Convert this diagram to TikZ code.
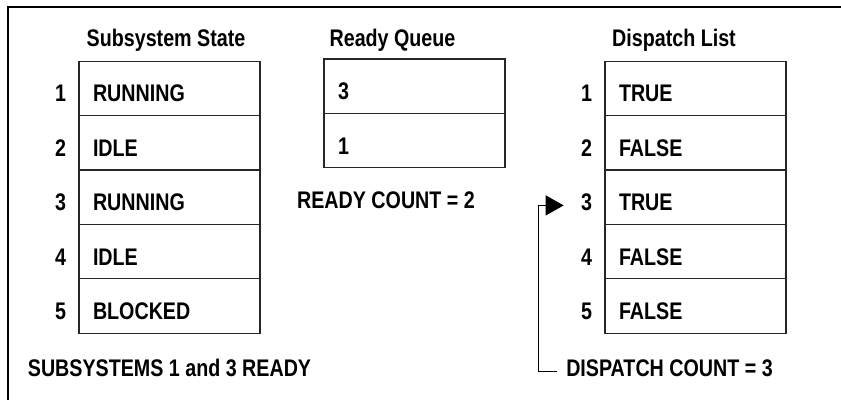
\documentclass[tikz,border=0pt]{standalone}
\usepackage{fontspec}
\setmainfont{Liberation Sans}[FakeStretch=0.82]
\usetikzlibrary{positioning}
\usetikzlibrary{arrows.meta}
\tikzstyle{txt} = [font=\fontsize{12}{14}\selectfont\bfseries, inner sep=0pt]
\tikzstyle{cell} = [txt, draw=black!85, line width=0.6pt, minimum height=27.2pt, text width=76.5pt, inner xsep=7pt, inner ysep=0pt, align=left, text height=13.5pt, text depth=0pt]
\tikzstyle{num} = [txt, text height=13.5pt, text depth=0pt]
\tikzstyle{link} = [line width=0.6pt, -{Triangle[length=9pt,width=10pt]}]
\def\rowh{54.4}

\begin{document}
\begin{tikzpicture}[x=0.5pt,y=-0.5pt]
\useasboundingbox (0,0) rectangle (841,400);

% frame
\draw[line width=1pt] (841,7) -- (8,7) -- (8,400);

\node[txt, anchor=base] (sstitle) at (166,47) {Subsystem State};
\node[txt, anchor=base] (rqtitle) at (392.5,47) {Ready Queue};
\node[txt, anchor=base] (dltitle) at (674,47) {Dispatch List};

\foreach \s [count=\i] in {RUNNING,IDLE,RUNNING,IDLE,BLOCKED} {
  \node[cell] (st\i) at (169.5,{88.4+(\i-1)*\rowh}) {\s};
  \node[num, left=6pt of st\i] (stn\i) {\i};
}

\foreach \q [count=\i] in {3,1}
  \node[cell] (rq\i) at (414.5,{86.2+(\i-1)*\rowh}) {\q};

\foreach \d [count=\i] in {TRUE,FALSE,TRUE,FALSE,FALSE} {
  \node[cell] (dl\i) at (695.5,{88.4+(\i-1)*\rowh}) {\d};
  \node[num, left=6pt of dl\i] (dln\i) {\i};
}

\node[txt, anchor=base] (rcount) at (386,209) {READY COUNT = 2};
\node[txt, anchor=base] (ssready) at (169.5,377) {SUBSYSTEMS 1 and 3 READY};
\node[txt, anchor=base] (dcount) at (669.5,377) {DISPATCH COUNT = 3};

\draw[link, shorten <=4.5pt, shorten >=8.5pt] (dcount.mid west) -- ++(-27,0) |- (dln3.mid west);

\end{tikzpicture}
\end{document}
